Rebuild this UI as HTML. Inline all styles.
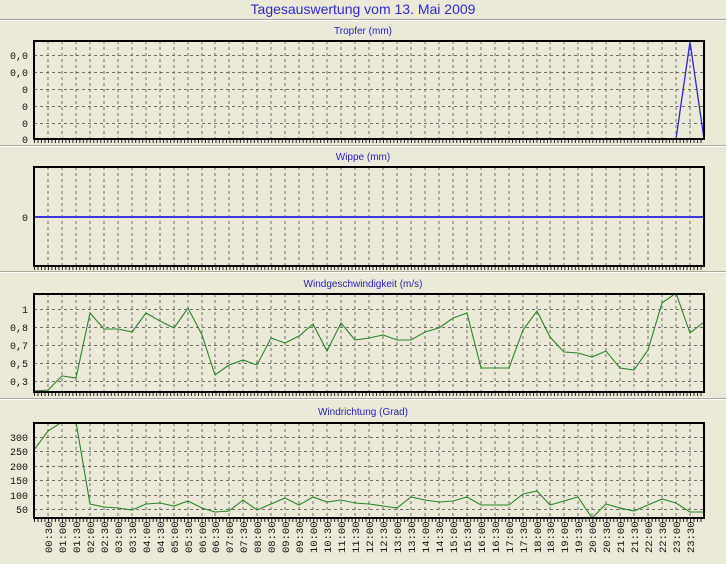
<!DOCTYPE html>
<html><head><meta charset="utf-8"><style>
html,body{margin:0;padding:0;background:#ece9d8;}
svg{display:block}
.t{font-family:"Liberation Sans",sans-serif;fill:#2323c0;text-anchor:middle}
.yl{font-family:"Liberation Mono",monospace;font-size:10px;fill:#111;text-anchor:end}
.xl{font-family:"Liberation Mono",monospace;font-size:10.5px;fill:#111}
.g{stroke:#6e6e6e;stroke-width:1;stroke-dasharray:3,3;fill:none}
</style></head><body>
<svg width="726" height="564" viewBox="0 0 726 564" xmlns="http://www.w3.org/2000/svg">
<defs>
<pattern id="mt" patternUnits="userSpaceOnUse" x="34" y="0" width="3.4896" height="10"><line x1="0.5" y1="0" x2="0.5" y2="10" stroke="#222" stroke-width="1"/></pattern>
<g id="vl" class="g">
<path d="M48 0V100M62 0V100M76 0V100M90 0V100M104 0V100M118 0V100M132 0V100M146 0V100M160 0V100M174 0V100M188 0V100M202 0V100M215 0V100M229 0V100M243 0V100M257 0V100M271 0V100M285 0V100M299 0V100M313 0V100M327 0V100M341 0V100M355 0V100M369 0V100M383 0V100M397 0V100M411 0V100M425 0V100M439 0V100M453 0V100M467 0V100M481 0V100M495 0V100M509 0V100M523 0V100M537 0V100M550 0V100M564 0V100M578 0V100M592 0V100M606 0V100M620 0V100M634 0V100M648 0V100M662 0V100M676 0V100M690 0V100"/>
</g>
<clipPath id="c1"><rect x="34" y="41" width="670" height="98"/></clipPath>
<clipPath id="c2"><rect x="34" y="167" width="670" height="99"/></clipPath>
<clipPath id="c3"><rect x="34" y="294" width="670" height="98"/></clipPath>
<clipPath id="c4"><rect x="34" y="423" width="670" height="95"/></clipPath>
</defs>
<rect width="726" height="564" fill="#ece9d8"/>
<text class="t" x="363" y="14" font-size="14" style="fill:#2a2ad6">Tagesauswertung vom 13. Mai 2009</text>
<line x1="0" y1="19.5" x2="726" y2="19.5" stroke="#aca899"/><line x1="0" y1="20.5" x2="726" y2="20.5" stroke="#fff"/>
<line x1="0" y1="145.5" x2="726" y2="145.5" stroke="#aca899"/><line x1="0" y1="146.5" x2="726" y2="146.5" stroke="#fff"/>
<line x1="0" y1="271.5" x2="726" y2="271.5" stroke="#aca899"/><line x1="0" y1="272.5" x2="726" y2="272.5" stroke="#fff"/>
<line x1="0" y1="398.5" x2="726" y2="398.5" stroke="#aca899"/><line x1="0" y1="399.5" x2="726" y2="399.5" stroke="#fff"/>

<text class="t" x="363" y="34" font-size="10">Tropfer (mm)</text>
<g clip-path="url(#c1)"><use href="#vl" transform="translate(0,41)"/>
<path class="g" d="M34 55.5H704M34 72.5H704M34 89.5H704M34 106.5H704M34 123.5H704"/>
<polyline points="34,139 676,139 690,42 704,139" fill="none" stroke="#2a2ad0" stroke-width="1.3"/></g>
<rect x="34" y="41" width="670" height="98" fill="none" stroke="#000" stroke-width="2"/>
<rect x="34" y="140" width="670" height="3" fill="url(#mt)"/>
<text class="yl" x="28" y="59">0,0</text><text class="yl" x="28" y="76">0,0</text><text class="yl" x="28" y="93">0</text><text class="yl" x="28" y="110">0</text><text class="yl" x="28" y="127">0</text><text class="yl" x="28" y="143">0</text>

<text class="t" x="363" y="160" font-size="10">Wippe (mm)</text>
<g clip-path="url(#c2)"><use href="#vl" transform="translate(0,167)"/></g>
<line x1="34" y1="217" x2="704" y2="217" stroke="#3a3ae0" stroke-width="2"/>
<rect x="34" y="167" width="670" height="99" fill="none" stroke="#000" stroke-width="2"/>
<rect x="34" y="267" width="670" height="3" fill="url(#mt)"/>
<text class="yl" x="28" y="221">0</text>

<text class="t" x="363" y="287" font-size="10">Windgeschwindigkeit (m/s)</text>
<g clip-path="url(#c3)"><use href="#vl" transform="translate(0,294)"/>
<path class="g" d="M34 309.5H704M34 327.5H704M34 345.5H704M34 363.5H704M34 381.5H704"/>
<polyline fill="none" stroke="#238a23" stroke-width="1.1" points="34,391 48,390 62,376 76,378 90,313 104,329 118,329 132,332 146,313 160,321 174,328 188,308 202,335 215,375 229,365 243,360 257,365 271,338 285,343 299,336 313,324 327,351 341,323 355,340 369,338 383,335 397,340 411,340 425,332 439,328 453,318 467,313 481,368 495,368 509,368 523,330 537,311 550,337 564,352 578,353 592,357 606,351 620,368 634,370 648,350 662,303 676,293 690,333 704,322"/></g>
<rect x="34" y="294" width="670" height="98" fill="none" stroke="#000" stroke-width="2"/>
<rect x="34" y="393" width="670" height="3" fill="url(#mt)"/>
<text class="yl" x="28" y="313">1</text><text class="yl" x="28" y="331">0,8</text><text class="yl" x="28" y="349">0,7</text><text class="yl" x="28" y="367">0,5</text><text class="yl" x="28" y="385">0,3</text>

<text class="t" x="363" y="415" font-size="10">Windrichtung (Grad)</text>
<g clip-path="url(#c4)"><use href="#vl" transform="translate(0,423)"/>
<path class="g" d="M34 437.5H704M34 451.5H704M34 466.5H704M34 480.5H704M34 495.5H704M34 509.5H704"/>
<polyline fill="none" stroke="#238a23" stroke-width="1.1" points="34,450 48,431 62,422 76,422 90,504 104,507 118,508 132,510 146,504 160,503 174,506 188,501 202,508 215,512 229,511 243,500 257,510 271,504 285,498 299,505 313,497 327,502 341,500 355,503 369,504 383,506 397,508 411,497 425,500 439,502 453,501 467,497 481,505 495,505 509,505 523,494 537,491 550,505 564,501 578,497 592,518 606,504 620,508 634,511 648,505 662,499 676,503 690,512 704,512"/></g>
<rect x="34" y="423" width="670" height="95" fill="none" stroke="#000" stroke-width="2"/>
<rect x="34" y="519" width="670" height="3" fill="url(#mt)"/>
<text class="yl" x="28" y="441">300</text><text class="yl" x="28" y="455">250</text><text class="yl" x="28" y="470">200</text><text class="yl" x="28" y="484">150</text><text class="yl" x="28" y="499">100</text><text class="yl" x="28" y="513">50</text>

<g class="xl">
<text transform="translate(52,553) rotate(-90)">00:30</text>
<text transform="translate(66,553) rotate(-90)">01:00</text>
<text transform="translate(80,553) rotate(-90)">01:30</text>
<text transform="translate(94,553) rotate(-90)">02:00</text>
<text transform="translate(108,553) rotate(-90)">02:30</text>
<text transform="translate(122,553) rotate(-90)">03:00</text>
<text transform="translate(136,553) rotate(-90)">03:30</text>
<text transform="translate(150,553) rotate(-90)">04:00</text>
<text transform="translate(164,553) rotate(-90)">04:30</text>
<text transform="translate(178,553) rotate(-90)">05:00</text>
<text transform="translate(192,553) rotate(-90)">05:30</text>
<text transform="translate(206,553) rotate(-90)">06:00</text>
<text transform="translate(219,553) rotate(-90)">06:30</text>
<text transform="translate(233,553) rotate(-90)">07:00</text>
<text transform="translate(247,553) rotate(-90)">07:30</text>
<text transform="translate(261,553) rotate(-90)">08:00</text>
<text transform="translate(275,553) rotate(-90)">08:30</text>
<text transform="translate(289,553) rotate(-90)">09:00</text>
<text transform="translate(303,553) rotate(-90)">09:30</text>
<text transform="translate(317,553) rotate(-90)">10:00</text>
<text transform="translate(331,553) rotate(-90)">10:30</text>
<text transform="translate(345,553) rotate(-90)">11:00</text>
<text transform="translate(359,553) rotate(-90)">11:30</text>
<text transform="translate(373,553) rotate(-90)">12:00</text>
<text transform="translate(387,553) rotate(-90)">12:30</text>
<text transform="translate(401,553) rotate(-90)">13:00</text>
<text transform="translate(415,553) rotate(-90)">13:30</text>
<text transform="translate(429,553) rotate(-90)">14:00</text>
<text transform="translate(443,553) rotate(-90)">14:30</text>
<text transform="translate(457,553) rotate(-90)">15:00</text>
<text transform="translate(471,553) rotate(-90)">15:30</text>
<text transform="translate(485,553) rotate(-90)">16:00</text>
<text transform="translate(499,553) rotate(-90)">16:30</text>
<text transform="translate(513,553) rotate(-90)">17:00</text>
<text transform="translate(527,553) rotate(-90)">17:30</text>
<text transform="translate(541,553) rotate(-90)">18:00</text>
<text transform="translate(554,553) rotate(-90)">18:30</text>
<text transform="translate(568,553) rotate(-90)">19:00</text>
<text transform="translate(582,553) rotate(-90)">19:30</text>
<text transform="translate(596,553) rotate(-90)">20:00</text>
<text transform="translate(610,553) rotate(-90)">20:30</text>
<text transform="translate(624,553) rotate(-90)">21:00</text>
<text transform="translate(638,553) rotate(-90)">21:30</text>
<text transform="translate(652,553) rotate(-90)">22:00</text>
<text transform="translate(666,553) rotate(-90)">22:30</text>
<text transform="translate(680,553) rotate(-90)">23:00</text>
<text transform="translate(694,553) rotate(-90)">23:30</text>
</g>
</svg>
</body></html>
